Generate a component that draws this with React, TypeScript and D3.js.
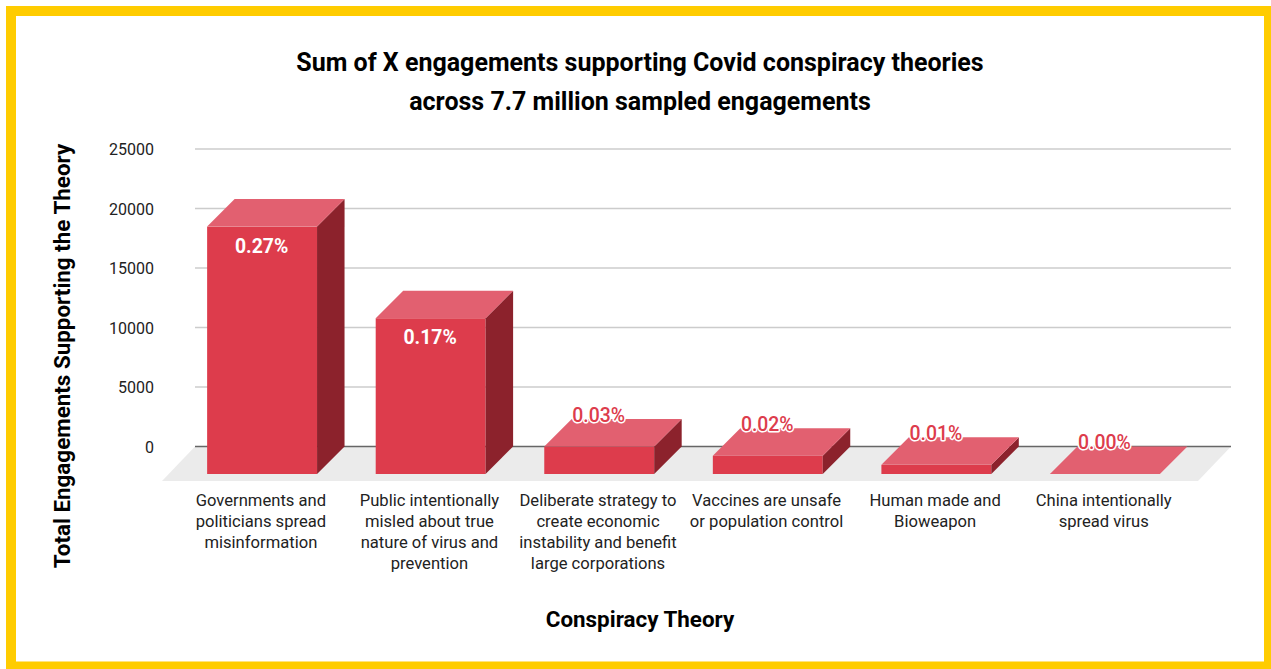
import React from "react";
import * as d3 from "d3";

const categories = [
  ["Governments and", "politicians spread", "misinformation"],
  ["Public intentionally", "misled about true", "nature of virus and", "prevention"],
  ["Deliberate strategy to", "create economic", "instability and benefit", "large corporations"],
  ["Vaccines are unsafe", "or population control"],
  ["Human made and", "Bioweapon"],
  ["China intentionally", "spread virus"],
];
const engagements = [20790, 13090, 2310, 1540, 770, 10];
const shares = ["0.27%", "0.17%", "0.03%", "0.02%", "0.01%", "0.00%"];
const yTicks = [0, 5000, 10000, 15000, 20000, 25000];

const width = 1271;
const height = 669;
const depth = 27.5;
const font = "Roboto, sans-serif";

const App: React.FC = () => {
  const y = d3.scaleLinear().domain([0, 25000]).range([446.5, 149]);
  const x = d3
    .scaleBand<number>()
    .domain(d3.range(categories.length))
    .range([177.8, 1189.2])
    .paddingInner(0.348)
    .paddingOuter(0.174);
  const bw = x.bandwidth();
  const line = d3.line();
  const floorY = y(0) + 34.5;

  return (
    <svg
      width={width}
      height={height}
      style={{ position: "absolute", left: 0, top: 0 }}
      fontFamily={font}
    >
      <rect x={0} y={0} width={width} height={height} fill="#ffffff" />
      <path
        fillRule="evenodd"
        fill="#ffcc00"
        d="M6 6H1271V669H6Z M16 16V661.5H1264V16Z"
      />

      <text x={640} y={70.5} textAnchor="middle" fontSize={25} fontWeight={700} fill="#000">
        Sum of X engagements supporting Covid conspiracy theories
      </text>
      <text x={640} y={110} textAnchor="middle" fontSize={25} fontWeight={700} fill="#000">
        across 7.7 million sampled engagements
      </text>

      <path
        d={line([[195, y(0)], [1231, y(0)], [1198, floorY], [162, floorY]]) + "Z"}
        fill="#ebebeb"
      />
      {yTicks.map((t) => (
        <g key={t}>
          <line
            x1={195}
            x2={1231}
            y1={y(t)}
            y2={y(t)}
            stroke={t === 0 ? "#666666" : "#cccccc"}
            strokeWidth={1.5}
          />
          <text x={154} y={y(t) + 6} textAnchor="end" fontSize={16} fill="#222">
            {t}
          </text>
        </g>
      ))}

      {engagements.map((v, i) => {
        const left = x(i)!;
        const right = left + bw;
        const top = y(v) + depth;
        const bottom = y(0) + depth;
        return (
          <g key={i}>
            <rect x={left} y={top} width={bw} height={bottom - top} fill="#dd3c4c" />
            <path
              d={line([[right, top], [right + depth, top - depth], [right + depth, bottom - depth], [right, bottom]]) + "Z"}
              fill="#8c222c"
            />
            <path
              d={line([[left, top], [left + depth, top - depth], [right + depth, top - depth], [right, top]]) + "Z"}
              fill="#e26070"
            />
          </g>
        );
      })}

      {engagements.map((v, i) => {
        const cx = x(i)! + bw / 2;
        const big = i < 2;
        return (
          <text
            key={i}
            x={cx - 0.5}
            y={big ? y(v) + depth + 26.2 : y(v) + 3}
            textAnchor="middle"
            fontSize={19.4}
            fontWeight={big ? 700 : 500}
            fill={big ? "#ffffff" : "#dd3c4c"}
            stroke={big ? "none" : "#ffffff"}
            strokeWidth={big ? 0 : 3}
            paintOrder="stroke"
            strokeLinejoin="round"
          >
            {shares[i]}
          </text>
        );
      })}

      {categories.map((lines, i) => (
        <text key={i} textAnchor="middle" fontSize={16.6} fill="#222">
          {lines.map((l, j) => (
            <tspan key={j} x={x(i)! + bw / 2 - 1.2} y={505.5 + j * 21}>
              {l}
            </tspan>
          ))}
        </text>
      ))}

      <text x={640} y={627} textAnchor="middle" fontSize={22.4} fontWeight={700} fill="#000">
        Conspiracy Theory
      </text>
      <text
        transform="translate(70,356) rotate(-90)"
        textAnchor="middle"
        fontSize={22.4}
        fontWeight={700}
        fill="#000"
      >
        Total Engagements Supporting the Theory
      </text>
    </svg>
  );
};

export default App;
